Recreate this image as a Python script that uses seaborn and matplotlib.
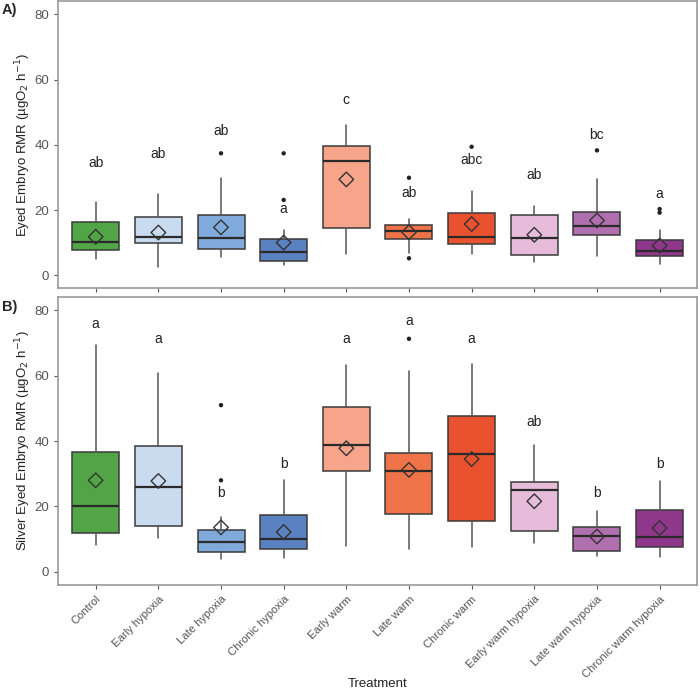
import numpy as np
import pandas as pd
import matplotlib
matplotlib.use("Agg")
import matplotlib.pyplot as plt
import seaborn as sns

treatments = ["Control", "Early hypoxia", "Late hypoxia", "Chronic hypoxia", "Early warm",
              "Late warm", "Chronic warm", "Early warm hypoxia", "Late warm hypoxia",
              "Chronic warm hypoxia"]
colors = ["#52a546", "#c9dcef", "#80aadb", "#5a82c0", "#f6a58b",
          "#ee7348", "#e9522f", "#e6bcda", "#b06fae", "#8e378b"]

# panel A - eyed embryo
a_low = [5.1, 2.4, 5.5, 3.0, 6.4, 6.9, 6.4, 4.1, 5.9, 3.5]
a_q1 = [7.8, 10.0, 8.2, 4.5, 14.5, 11.2, 9.6, 6.1, 12.4, 5.8]
a_med = [10.1, 11.7, 11.3, 7.0, 35.0, 13.5, 11.8, 11.5, 15.1, 7.3]
a_q3 = [16.4, 17.8, 18.5, 11.2, 39.7, 15.3, 19.2, 18.6, 19.5, 10.9]
a_high = [22.4, 24.9, 29.7, 13.9, 46.2, 17.4, 25.9, 21.2, 29.6, 13.9]
a_mean = [11.8, 13.1, 14.7, 10.0, 29.4, 13.2, 15.7, 12.4, 16.8, 9.1]
a_out = [[], [], [37.4], [37.4, 23.1], [], [29.9, 5.2], [39.4], [], [38.3], [20.3, 19.2]]
a_letters = ["ab", "ab", "ab", "a", "c", "ab", "abc", "ab", "bc", "a"]
a_letter_y = [34.3, 37.3, 44.3, 20.2, 53.9, 25.3, 35.5, 30.7, 43.0, 24.9]

# panel B - silver eyed embryo
b_low = [8.2, 10.3, 3.9, 4.1, 7.8, 6.9, 7.6, 8.8, 4.9, 4.5]
b_q1 = [12.0, 14.1, 6.2, 7.0, 31.0, 17.7, 15.4, 12.4, 6.5, 7.6]
b_med = [20.2, 26.1, 9.1, 10.0, 38.7, 30.7, 36.0, 25.0, 11.1, 10.6]
b_q3 = [36.7, 38.4, 12.7, 17.3, 50.4, 36.5, 47.8, 27.6, 13.6, 19.0]
b_high = [69.5, 60.8, 16.9, 28.2, 63.3, 61.5, 63.7, 38.7, 18.5, 27.9]
b_mean = [28.0, 27.8, 13.6, 12.2, 37.8, 31.2, 34.5, 21.6, 10.8, 13.4]
b_out = [[], [], [51.0, 28.0], [], [], [71.3], [], [], [], []]
b_letters = ["a", "a", "b", "b", "a", "a", "a", "ab", "b", "b"]
b_letter_y = [75.9, 71.2, 24.1, 33.1, 71.2, 76.6, 71.2, 45.8, 24.1, 33.1]

sns.set_theme(style="white")
plt.rcParams['font.family'] = ['Liberation Sans', 'DejaVu Sans']

fig = plt.figure(figsize=(7, 6.93), dpi=100)
axA = fig.add_axes([0.083, 0.584, 0.913, 0.414])
axB = fig.add_axes([0.083, 0.156, 0.913, 0.415])


def draw_panel(ax, low, q1, med, q3, high, mean, out, letters, letter_y, ylabel):
    stats = []
    for i in range(len(treatments)):
        stats.append({"whislo": low[i], "q1": q1[i], "med": med[i], "q3": q3[i],
                      "whishi": high[i], "fliers": out[i], "label": treatments[i]})
    bp = ax.bxp(stats, positions=range(len(treatments)), widths=0.75, patch_artist=True,
                showfliers=False, showcaps=False,
                boxprops=dict(edgecolor="#3a3a3a", linewidth=1.1),
                medianprops=dict(color="#2a2a2a", linewidth=1.6),
                whiskerprops=dict(color="#555555", linewidth=1.1))
    for patch, c in zip(bp["boxes"], colors):
        patch.set_facecolor(c)

    fl = pd.DataFrame([(i, v) for i, vals in enumerate(out) for v in vals], columns=["x", "y"])
    sns.scatterplot(data=fl, x="x", y="y", ax=ax, color="#222222", s=10,
                    edgecolor="none", zorder=4)
    mn = pd.DataFrame({"x": range(len(treatments)), "y": mean})
    sns.scatterplot(data=mn, x="x", y="y", ax=ax, marker="D", s=55,
                    facecolor="none", edgecolor="#333333", linewidth=1.0, zorder=5)

    for i, (t, yy) in enumerate(zip(letters, letter_y)):
        ax.text(i, yy, t, ha="center", va="center", fontsize=10, color="#222222")

    ax.set_xlim(-0.6, 9.6)
    ax.set_ylim(-4, 84)
    ax.set_yticks([0, 20, 40, 60, 80])
    ax.set_ylabel(ylabel, fontsize=9.5, color="#222222")
    ax.set_xlabel("")
    ax.tick_params(axis="both", length=3, width=0.8, color="#555555",
                   labelcolor="#555555", labelsize=9.5, direction="out",
                   bottom=True, left=True)
    for s in ax.spines.values():
        s.set_color("#999999")
        s.set_linewidth(1.2)


draw_panel(axA, a_low, a_q1, a_med, a_q3, a_high, a_mean, a_out, a_letters, a_letter_y,
           "Eyed Embryo RMR (µgO$_2$ h$^{-1}$)")
draw_panel(axB, b_low, b_q1, b_med, b_q3, b_high, b_mean, b_out, b_letters, b_letter_y,
           "Silver Eyed Embryo RMR (µgO$_2$ h$^{-1}$)")

axA.set_xticks(range(len(treatments)))
axA.set_xticklabels([])
axB.set_xticks(range(len(treatments)))
axB.set_xticklabels(treatments, rotation=45, ha="right", rotation_mode="anchor", fontsize=8.1)
axB.set_xlabel("Treatment", fontsize=9.5, color="#222222")
axB.xaxis.set_label_coords(0.5, -0.325)
axA.yaxis.set_label_coords(-0.04, 0.5)
axB.yaxis.set_label_coords(-0.04, 0.5)

fig.text(0.003, 0.985, "A)", fontsize=10.5, fontweight="bold", va="center")
fig.text(0.003, 0.557, "B)", fontsize=10.5, fontweight="bold", va="center")

fig.savefig("out.png", dpi=100)
